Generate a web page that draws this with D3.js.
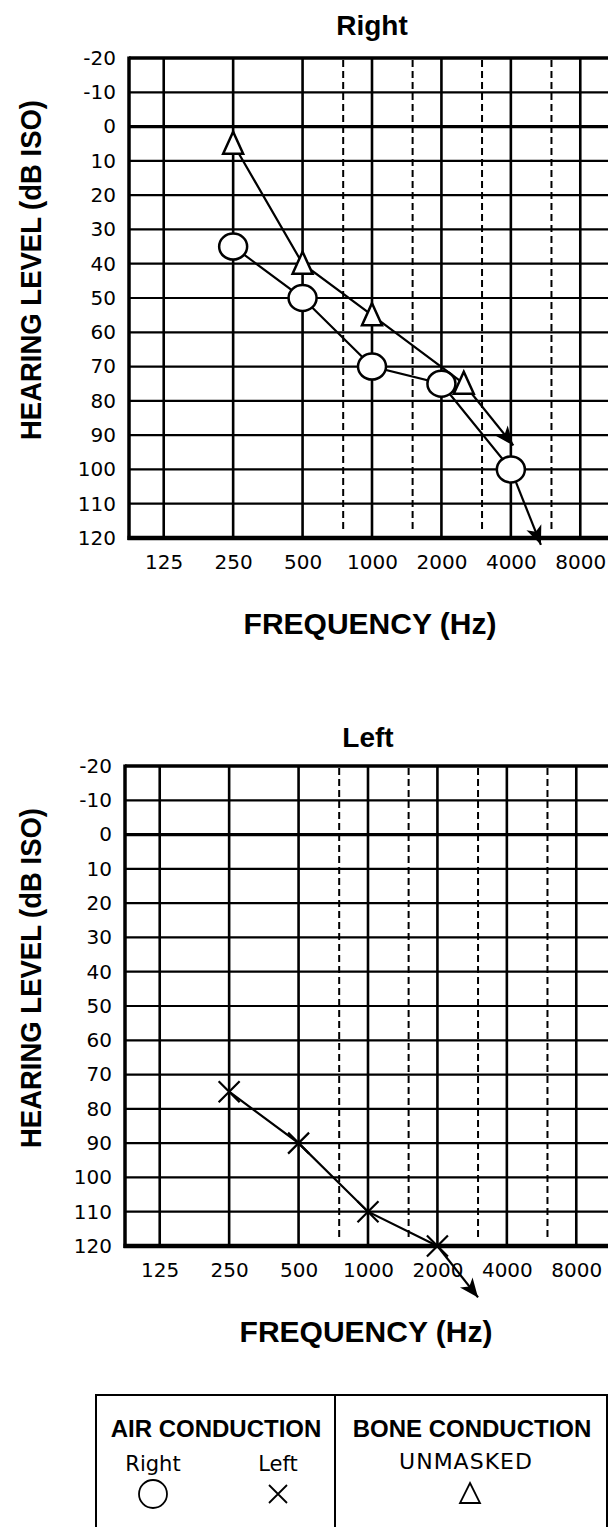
<!DOCTYPE html>
<html>
<head>
<meta charset="utf-8">
<script src="https://cdn.jsdelivr.net/npm/d3@7"></script>
<style>
  body { margin: 0; background: #fff; }
  svg { display: block; }
</style>
</head>
<body>
<div class="main"></div>
<script>
// audiogram values
const freqTicks = [125, 250, 500, 1000, 2000, 4000, 8000];
const halfOctaves = [750, 1500, 3000, 6000];
const dbTicks = [-20, -10, 0, 10, 20, 30, 40, 50, 60, 70, 80, 90, 100, 110, 120];

const rightAirFreq = [250, 500, 1000, 2000, 4000];
const rightAirDb = [35, 50, 70, 75, 100];
const rightAirNoResp = [[4000, 100], [5400, 122]];

const rightBoneFreq = [250, 500, 1000, 2500];
const rightBoneDb = [5, 40, 55, 75];
const rightBoneNoResp = [[2500, 75], [4100, 93]];

const leftAirFreq = [250, 500, 1000, 2000];
const leftAirDb = [75, 90, 110, 120];
const leftAirNoResp = [[2000, 120], [3000, 135]];

const W = 608, H = 1527;
const tickFont = "'DejaVu Sans', sans-serif";
const boldFont = "'Liberation Sans', Arial, sans-serif";

let svg = d3.select("div.main").append("svg")
  .attr("width", W)
  .attr("height", H);

svg.append("rect").attr("width", W).attr("height", H).attr("fill", "#fff");

function arrowHead(g, x1, y1, x2, y2) {
  let a = Math.atan2(y2 - y1, x2 - x1), L = 19, hw = 8;
  let bx = x2 - L * Math.cos(a), by = y2 - L * Math.sin(a);
  let px = -Math.sin(a) * hw, py = Math.cos(a) * hw;
  g.append("path")
    .attr("d", "M" + x2 + "," + y2 + "L" + (bx + px) + "," + (by + py) +
      "L" + (bx + 5 * Math.cos(a)) + "," + (by + 5 * Math.sin(a)) +
      "L" + (bx - px) + "," + (by - py) + "Z")
    .attr("fill", "#000");
}

function audiogram(opt) {
  let g = svg.append("g").attr("transform", "translate(" + opt.left + "," + opt.top + ")");
  let w = 486, h = 480;

  let x = d3.scaleLog().domain([125 / Math.SQRT2, 8000 * Math.SQRT2]).range([0, w]);
  let y = d3.scaleLinear().domain([-20, 120]).range([0, h]);

  // grid
  g.selectAll(".hgrid").data(dbTicks).enter().append("line")
    .attr("x1", 0).attr("x2", w)
    .attr("y1", d => y(d)).attr("y2", d => y(d))
    .attr("stroke", "#000")
    .attr("stroke-width", d => d == 0 ? 3.2 : 2.2);

  g.selectAll(".vgrid").data(freqTicks).enter().append("line")
    .attr("x1", d => x(d)).attr("x2", d => x(d))
    .attr("y1", 0).attr("y2", h)
    .attr("stroke", "#000").attr("stroke-width", 2.6);

  g.selectAll(".dgrid").data(halfOctaves).enter().append("line")
    .attr("x1", d => x(d)).attr("x2", d => x(d))
    .attr("y1", 2).attr("y2", h - 6)
    .attr("stroke", "#000").attr("stroke-width", 2)
    .attr("stroke-dasharray", "7,4");

  // frame
  g.append("line").attr("x1", 0).attr("x2", 0).attr("y1", -1.5).attr("y2", h + 2)
    .attr("stroke", "#000").attr("stroke-width", 3.5);
  g.append("line").attr("x1", 0).attr("x2", w).attr("y1", 0).attr("y2", 0)
    .attr("stroke", "#000").attr("stroke-width", 3.5);
  g.append("line").attr("x1", -1.5).attr("x2", w).attr("y1", h).attr("y2", h)
    .attr("stroke", "#000").attr("stroke-width", 4.5);
  g.append("line").attr("x1", w).attr("x2", w).attr("y1", 0).attr("y2", h)
    .attr("stroke", "#000").attr("stroke-width", 3.5);

  // axes (labels only)
  let ya = g.append("g").call(d3.axisLeft(y).tickValues(dbTicks)
    .tickFormat(d => String(d)).tickSize(0).tickPadding(13));
  ya.select(".domain").remove();
  ya.selectAll("text").attr("font-family", tickFont).attr("font-size", 20).attr("fill", "#000");

  let xa = g.append("g").attr("transform", "translate(0," + h + ")")
    .call(d3.axisBottom(x).tickValues(freqTicks).tickFormat(d => String(d)).tickSize(0).tickPadding(17));
  xa.select(".domain").remove();
  xa.selectAll("text").attr("font-family", tickFont).attr("font-size", 20).attr("fill", "#000");

  // titles
  g.append("text").attr("x", w / 2).attr("y", opt.titleY)
    .attr("text-anchor", "middle").attr("font-family", boldFont)
    .attr("font-weight", "bold").attr("font-size", 28).text(opt.title);

  g.append("text").attr("x", w / 2 - 2).attr("y", h + 96)
    .attr("text-anchor", "middle").attr("font-family", boldFont)
    .attr("font-weight", "bold").attr("font-size", 30).text("FREQUENCY (Hz)");

  g.append("text")
    .attr("transform", "translate(" + (-opt.left + 30) + "," + (h / 2 - 28) + ") rotate(-90)")
    .attr("dy", "0.36em")
    .attr("text-anchor", "middle").attr("font-family", boldFont)
    .attr("font-weight", "bold").attr("font-size", 30)
    .attr("textLength", 340).attr("lengthAdjust", "spacingAndGlyphs")
    .text("HEARING LEVEL (dB ISO)");

  let line = d3.line().x(d => x(d[0])).y(d => y(d[1]));
  let plot = g.append("g");

  opt.series.forEach(function(s) {
    let pts = s.freq.map((f, i) => [f, s.db[i]]);
    plot.append("path").attr("d", line(pts))
      .attr("fill", "none").attr("stroke", "#000").attr("stroke-width", 2.2);
    if (s.noResp) {
      let a = s.noResp;
      plot.append("path").attr("d", line(a))
        .attr("fill", "none").attr("stroke", "#000").attr("stroke-width", 2.2);
      arrowHead(plot, x(a[0][0]), y(a[0][1]), x(a[1][0]), y(a[1][1]));
    }
    let sym = plot.selectAll(".s").data(pts).enter().append("g")
      .attr("transform", d => "translate(" + x(d[0]) + "," + y(d[1]) + ")");
    if (s.symbol == "circle") {
      sym.append("ellipse").attr("rx", 14).attr("ry", 13)
        .attr("fill", "#fff").attr("stroke", "#000").attr("stroke-width", 2.5);
    } else if (s.symbol == "triangle") {
      sym.append("path").attr("d", "M0,-12L10,10L-10,10Z")
        .attr("fill", "#fff").attr("stroke", "#000").attr("stroke-width", 2.5);
    } else {
      sym.append("path").attr("d", "M-10.5,-10.5L10.5,10.5M-10.5,10.5L10.5,-10.5")
        .attr("fill", "none").attr("stroke", "#000").attr("stroke-width", 2.2);
    }
  });
}

audiogram({
  left: 129, top: 58, title: "Right", titleY: -23,
  series: [
    { freq: rightAirFreq, db: rightAirDb, symbol: "circle", noResp: rightAirNoResp },
    { freq: rightBoneFreq, db: rightBoneDb, symbol: "triangle", noResp: rightBoneNoResp }
  ]
});

audiogram({
  left: 125, top: 766, title: "Left", titleY: -19,
  series: [
    { freq: leftAirFreq, db: leftAirDb, symbol: "x", noResp: leftAirNoResp }
  ]
});

// legend
let lg = svg.append("g");
lg.append("rect").attr("x", 96).attr("y", 1395).attr("width", 511).attr("height", 160)
  .attr("fill", "none").attr("stroke", "#000").attr("stroke-width", 2);
lg.append("line").attr("x1", 335).attr("x2", 335).attr("y1", 1395).attr("y2", 1555)
  .attr("stroke", "#000").attr("stroke-width", 2);

lg.append("text").attr("x", 216).attr("y", 1437).attr("text-anchor", "middle")
  .attr("font-family", boldFont).attr("font-weight", "bold").attr("font-size", 24)
  .text("AIR CONDUCTION");
lg.append("text").attr("x", 472).attr("y", 1437).attr("text-anchor", "middle")
  .attr("font-family", boldFont).attr("font-weight", "bold").attr("font-size", 24)
  .text("BONE CONDUCTION");

lg.append("text").attr("x", 153).attr("y", 1471).attr("text-anchor", "middle")
  .attr("font-family", tickFont).attr("font-size", 21).text("Right");
lg.append("text").attr("x", 278).attr("y", 1471).attr("text-anchor", "middle")
  .attr("font-family", tickFont).attr("font-size", 21).text("Left");
lg.append("text").attr("x", 466).attr("y", 1469).attr("text-anchor", "middle")
  .attr("font-family", tickFont).attr("font-size", 22).attr("letter-spacing", 1)
  .text("UNMASKED");

lg.append("circle").attr("cx", 153).attr("cy", 1494).attr("r", 14)
  .attr("fill", "none").attr("stroke", "#000").attr("stroke-width", 1.8);
lg.append("path").attr("d", "M269,1485L287,1503M269,1503L287,1485")
  .attr("fill", "none").attr("stroke", "#000").attr("stroke-width", 1.8);
lg.append("path").attr("d", "M470,1483L480,1503L460,1503Z")
  .attr("fill", "none").attr("stroke", "#000").attr("stroke-width", 1.8);
</script>
</body>
</html>
